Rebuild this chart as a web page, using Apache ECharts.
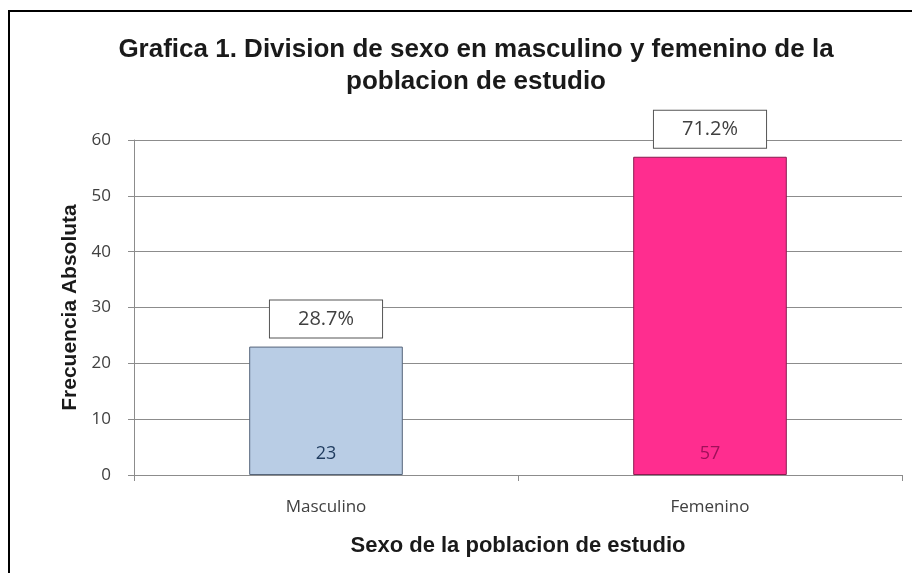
<!DOCTYPE html>
<html>
<head>
<meta charset="utf-8">
<script src="https://cdn.jsdelivr.net/npm/echarts@6/dist/echarts.min.js"></script>
<style>
  html, body { margin: 0; padding: 0; background: #fff; }
  #chart { width: 912px; height: 573px; }
</style>
</head>
<body>
<div id="chart"></div>
<script>
// Sex distribution of the study population
const categories = ['Masculino', 'Femenino'];
const counts = [23, 57];
const percentLabels = ['28.7%', '71.2%'];
const barColors = ['#B9CDE5', '#FF2D8F'];
const barBorders = ['#56657A', '#8A1C50'];
const valueColors = ['#1F3B5E', '#A0105A'];

const chart = echarts.init(document.getElementById('chart'), null, { renderer: 'canvas' });

const axisFont = '"Open Sans", Lato, sans-serif';
const boldFont = '"Liberation Sans", Arial, sans-serif';

chart.setOption({
  backgroundColor: '#ffffff',
  animation: false,
  title: {
    text: 'Grafica 1. Division de sexo en masculino y femenino de la\npoblacion de estudio',
    left: 471,
    textAlign: 'center',
    top: 29,
    textStyle: {
      fontFamily: boldFont,
      fontWeight: 'bold',
      fontSize: 26,
      lineHeight: 32,
      color: '#1a1a1a'
    }
  },
  grid: { left: 134, right: 10, top: 140, bottom: 98 },
  xAxis: {
    type: 'category',
    data: categories,
    name: 'Sexo de la poblacion de estudio',
    nameLocation: 'middle',
    nameGap: 60,
    nameTextStyle: {
      fontFamily: boldFont,
      fontWeight: 'bold',
      fontSize: 22,
      color: '#1a1a1a'
    },
    axisLine: { lineStyle: { color: '#8C8C8C', width: 1 } },
    axisTick: { show: true, length: 6, lineStyle: { color: '#8C8C8C' } },
    axisLabel: {
      fontFamily: axisFont,
      fontSize: 17,
      color: '#404040',
      margin: 24
    }
  },
  yAxis: {
    type: 'value',
    min: 0,
    max: 60,
    interval: 10,
    name: 'Frecuencia Absoluta',
    nameLocation: 'middle',
    nameGap: 53,
    nameTextStyle: {
      fontFamily: boldFont,
      fontWeight: 'bold',
      fontSize: 21,
      color: '#1a1a1a'
    },
    axisLine: { show: true, lineStyle: { color: '#8C8C8C', width: 1 } },
    axisTick: { show: true, length: 6, lineStyle: { color: '#8C8C8C' } },
    axisLabel: {
      fontFamily: axisFont,
      fontSize: 17,
      color: '#404040',
      margin: 23
    },
    splitLine: { lineStyle: { color: '#8C8C8C', width: 1 } }
  },
  series: [
    {
      type: 'bar',
      barWidth: '40%',
      data: counts.map((v, i) => ({
        value: v,
        itemStyle: { color: barColors[i], borderColor: barBorders[i], borderWidth: 1 },
        label: { color: valueColors[i] }
      })),
      label: {
        show: true,
        position: 'insideBottom',
        distance: 12,
        fontFamily: axisFont,
        fontSize: 18
      }
    },
    {
      type: 'bar',
      barWidth: '40%',
      barGap: '-100%',
      silent: true,
      data: counts,
      itemStyle: { color: 'rgba(0,0,0,0)' },
      label: {
        show: true,
        position: 'top',
        distance: 9,
        formatter: p => percentLabels[p.dataIndex],
        fontFamily: axisFont,
        fontSize: 20,
        color: '#404040',
        backgroundColor: '#ffffff',
        borderColor: '#555555',
        borderWidth: 1,
        padding: [9, 28, 8, 28]
      }
    }
  ],
  graphic: [
    { type: 'line', shape: { x1: 8, y1: 11, x2: 912, y2: 11 }, style: { stroke: '#000', lineWidth: 2 } },
    { type: 'line', shape: { x1: 9, y1: 10, x2: 9, y2: 573 }, style: { stroke: '#000', lineWidth: 2 } }
  ]
});
</script>
</body>
</html>
